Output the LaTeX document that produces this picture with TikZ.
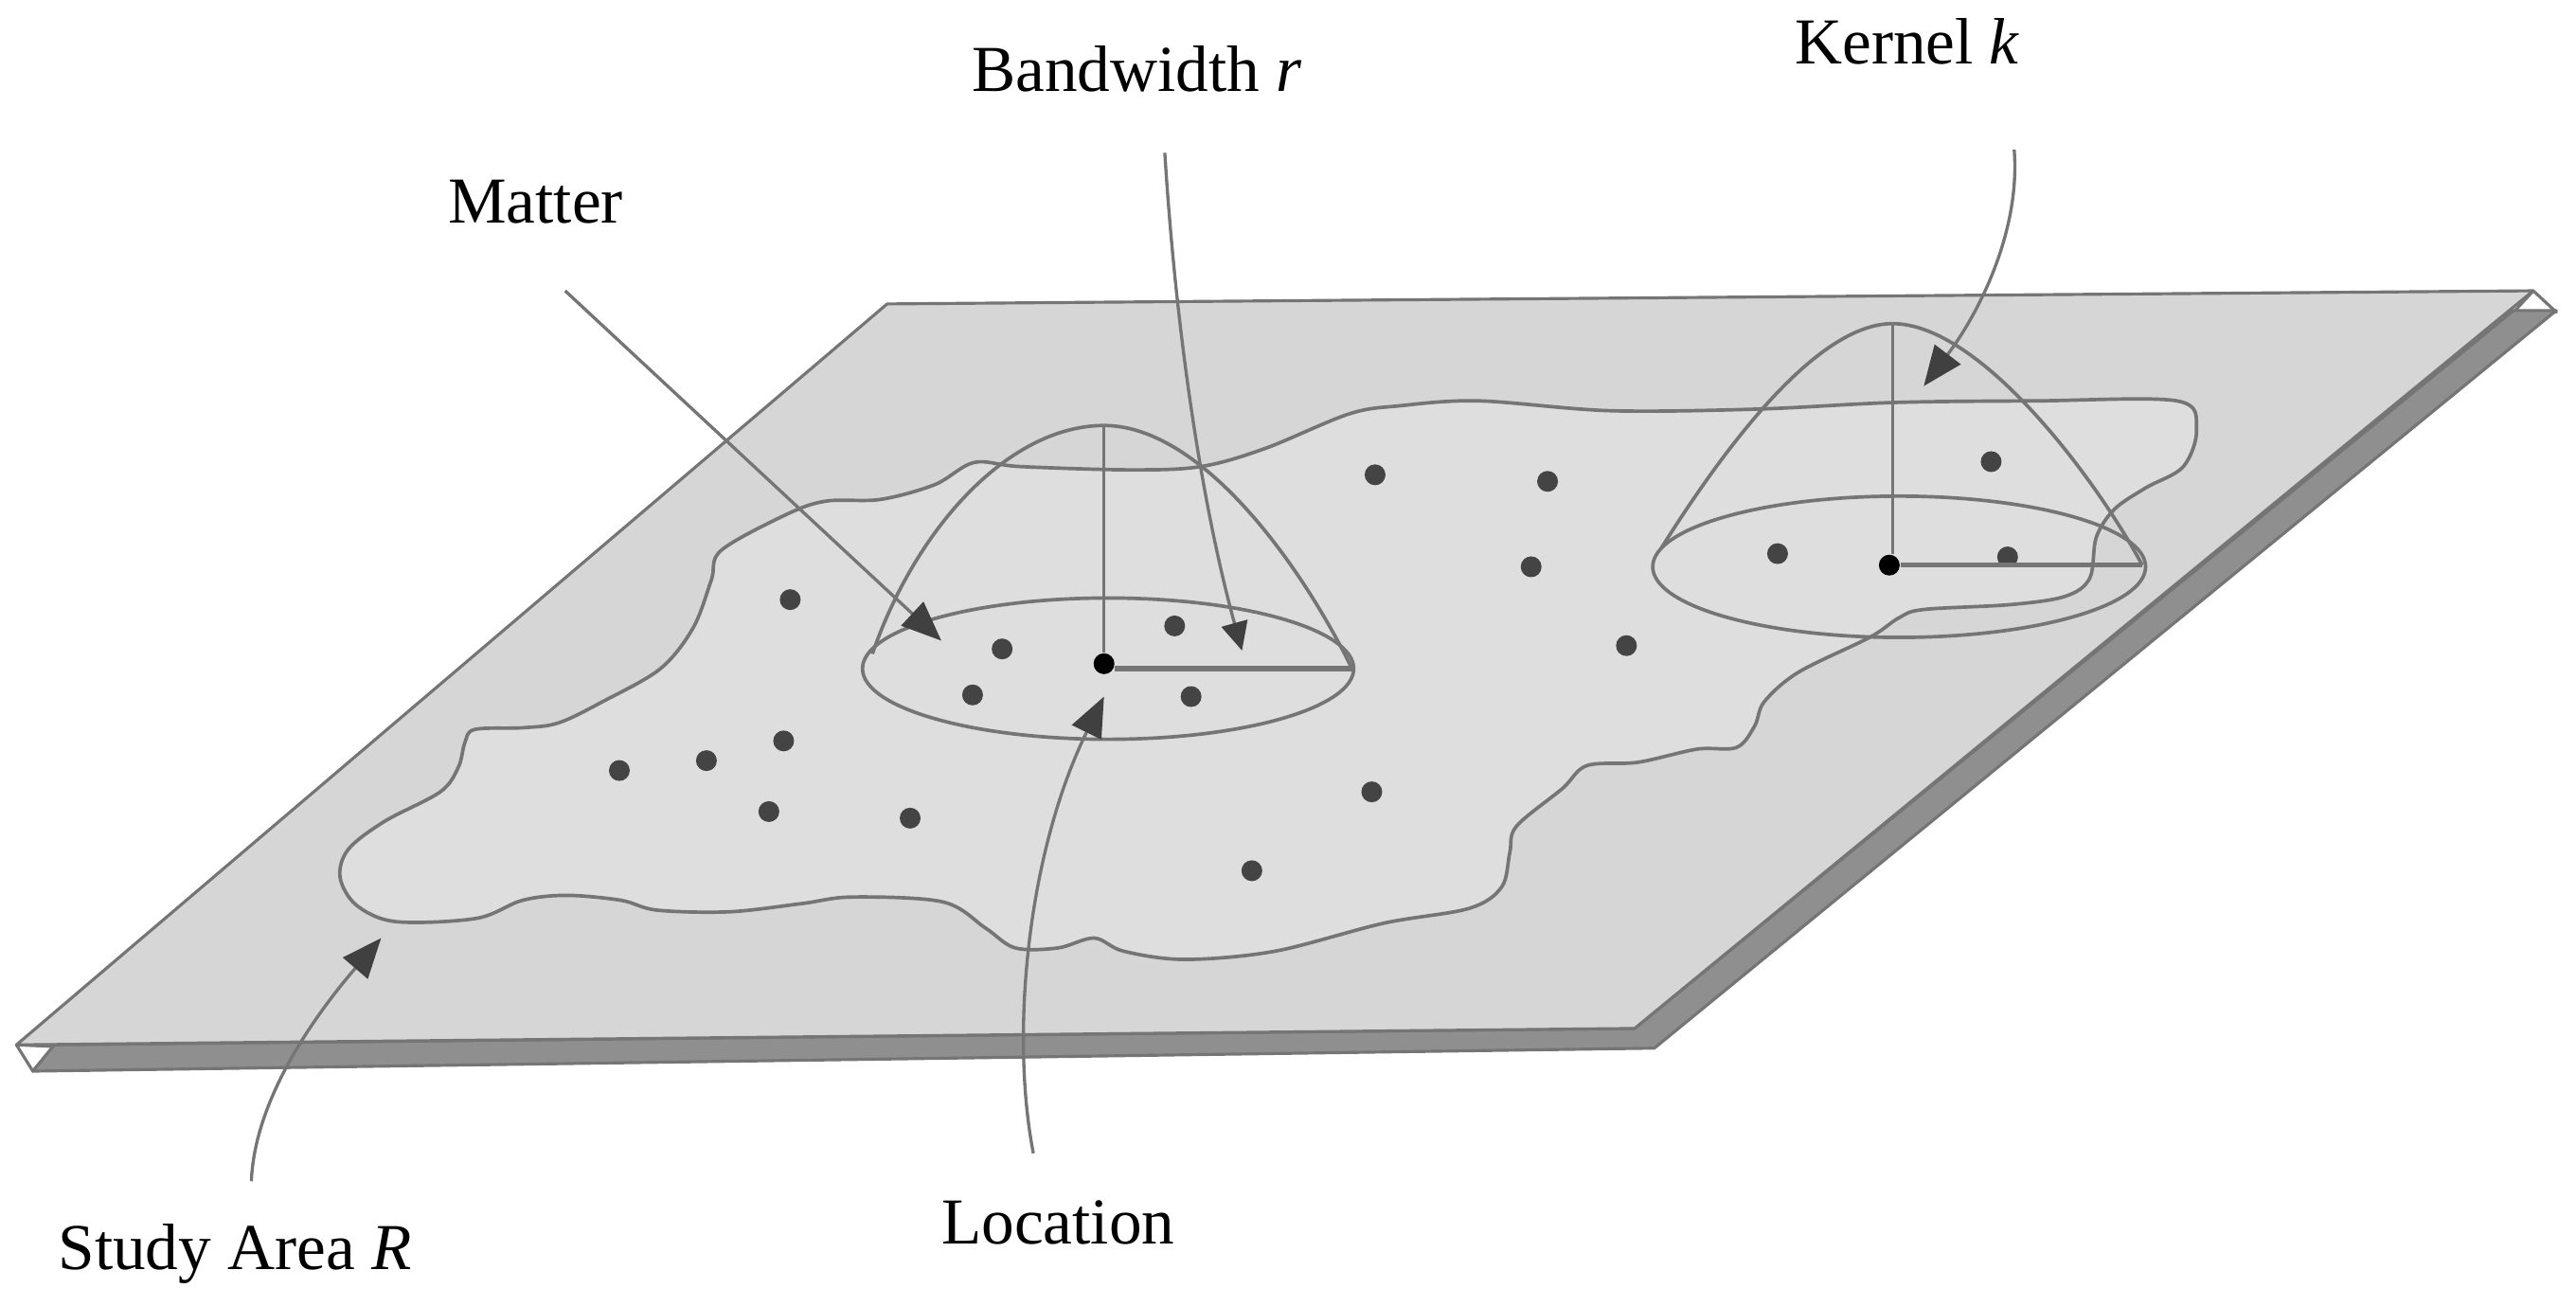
\documentclass[tikz,border=0pt]{standalone}
\usepackage{fontspec}
\setmainfont{Liberation Serif}
\usetikzlibrary{arrows.meta}
\definecolor{facegray}{HTML}{D6D6D6}
\definecolor{areagray}{HTML}{DEDEDE}
\definecolor{sidegray}{HTML}{8F8F8F}
\definecolor{linegray}{HTML}{757575}
\definecolor{headdark}{HTML}{404040}
\definecolor{dotdark}{HTML}{444444}
\tikzset{
  x=0.17347mm, y=-0.17347mm,
  plate/.style={draw=linegray, line width=0.9pt, line join=round},
  outline/.style={draw=linegray, line width=1.05pt},
  stem/.style={draw=linegray, line width=0.9pt},
  radius line/.style={draw=linegray, line width=1.5pt},
  sample/.style={circle, fill=dotdark, inner sep=0pt, minimum size=2.2mm},
  centre/.style={circle, fill=black, inner sep=0pt, minimum size=2.2mm},
  tag/.style={font=\fontsize{19.7}{24}\selectfont, text=black, inner sep=0pt},
  pointer/.style={-{Triangle[length=4.2mm,width=3.4mm,color=headdark]}, line width=0.95pt, draw=linegray},
  small pointer/.style={-{Triangle[length=3mm,width=2.8mm,color=headdark]}, line width=0.95pt, draw=linegray}
}
\begin{document}
\begin{tikzpicture}
\useasboundingbox (0,0) rectangle (1568,794.4);
\draw[plate, fill=white] (10,636) -- (20,652) -- (33,637) -- cycle;
\draw[plate, fill=white] (1542,177) -- (1556,190) -- (1530,190) -- cycle;
\draw[plate, fill=sidegray] (33,636) -- (995,626) -- (1530,189) -- (1556,189) -- (1007,638) -- (20,652) -- cycle;
\draw[plate, fill=facegray] (10,636) -- (540,185) -- (1542,177) -- (995,626) -- cycle;
\draw[outline, fill=areagray] plot[smooth cycle, tension=0.55] coordinates {
  (207,534) (212,517) (234,500) (268,482) (279,467) (283,452) (289,444) (318,443)
  (340,440) (367,427) (402,407) (422,382) (433,353) (439,335) (479,313) (503,305)
  (536,304) (569,295) (593,281.5) (621,284) (688,286) (731,284) (770,273) (821,252)
  (852,247) (900,244) (980,250) (1070,249) (1153,245) (1240,244) (1325,244)
  (1337,261) (1329,284) (1306,297) (1287,310) (1276,327) (1272,352) (1257,363)
  (1224,368) (1171,371) (1156,376) (1138,388) (1095,409) (1074,427) (1068,442)
  (1057,455) (1033,456) (997,464) (966,466) (951,480) (923,503) (919,519) (914,540)
  (894,553) (842,562) (776,579) (721,584) (684,579) (666,571) (644,577) (618,577)
  (600,565) (574,549) (519,546) (488,550) (444,555) (400,554) (378,548) (345,545)
  (318,548) (290,559) (241,561) (217,551)
};
\coordinate (apexa) at (672,259);
\coordinate (rima) at (823,407);
\coordinate (apexb) at (1152,197);
\coordinate (rimb) at (1304,344);
\draw[outline] (674.5,407) ellipse (149.5 and 43);
\draw[outline] (531,398) .. controls (558,320) and (615,259) .. (apexa);
\draw[outline] (apexa) .. controls (730,259) and (790,340) .. (rima);
\draw[outline] (1156,345) ellipse (150 and 43);
\draw[outline] (1011,334) .. controls (1048,275) and (1105,197) .. (apexb);
\draw[outline] (apexb) .. controls (1205,197) and (1275,290) .. (rimb);
\foreach \i/\xp/\yp in {1/481/365,2/377/469,3/430/463,4/477/451,5/468/494,6/554/498,
  7/610/395,8/592/423,9/715/381,10/725/424,11/837/289,12/942/293,13/932/345,
  14/990/393,15/835/482,16/762/530,17/1212/281,18/1082/337,19/1222/339}
  \node[sample] (s\i) at (\xp,\yp) {};
\node[centre] (loca) at (672,404) {};
\node[centre] (locb) at (1150,344) {};
\draw[stem] (apexa) -- (apexa |- loca.north);
\draw[stem] (apexb) -- (apexb |- locb.north);
\draw[radius line] (loca.east |- rima) -- (rima);
\draw[radius line] (locb.east |- rimb) -- (rimb);
\node[tag] (matter) at (326,123) {Matter};
\node[tag] (bandwidth) at (692,42) {Bandwidth \textit{r}};
\node[tag] (kernel) at (1161,25) {Kernel \textit{k}};
\node[tag] (location) at (644,744) {Location};
\node[tag] (study) at (143,763) {Study Area \textit{R}};
\coordinate (matterstart) at (344,177);
\coordinate (mattertip) at (573,390);
\coordinate (bandstart) at (709,93);
\coordinate (bandtip) at (756,396);
\coordinate (kernelstart) at (1226,91);
\coordinate (kerneltip) at (1171,235);
\coordinate (locstart) at (629,702);
\coordinate (loctip) at (672,424);
\coordinate (studystart) at (153,719);
\coordinate (studytip) at (232,571);
\draw[pointer] (matterstart) -- (mattertip);
\draw[small pointer] (bandstart) .. controls (717,220) and (735,320) .. (bandtip);
\draw[pointer] (kernelstart) .. controls (1230,140) and (1205,190) .. (kerneltip);
\draw[pointer] (locstart) .. controls (615,630) and (625,520) .. (loctip);
\draw[pointer] (studystart) .. controls (155,670) and (190,620) .. (studytip);
\end{tikzpicture}
\end{document}
